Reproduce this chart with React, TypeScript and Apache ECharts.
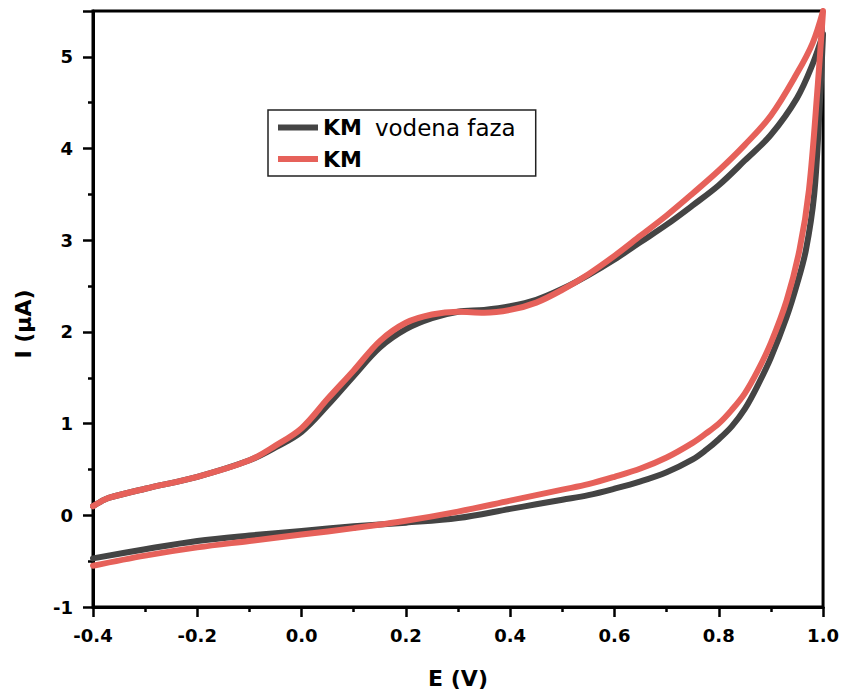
import React, { useEffect, useRef } from "react";
import * as echarts from "echarts";

// ---- data (E in V, I in µA) ----
const SERIES_NAMES = ["KM vodena faza", "KM"];

// KM vodena faza (dark) - forward scan
const E_FWD_DARK = [-0.4, -0.385, -0.37, -0.3, -0.2, -0.1, -0.05, 0.0, 0.05, 0.1, 0.15, 0.2, 0.25, 0.3, 0.35, 0.4, 0.45, 0.5, 0.55, 0.6, 0.65, 0.7, 0.75, 0.8, 0.85, 0.9, 0.95, 0.98, 1.0];
const I_FWD_DARK = [0.10, 0.15, 0.19, 0.29, 0.42, 0.60, 0.74, 0.91, 1.20, 1.52, 1.83, 2.03, 2.15, 2.22, 2.24, 2.28, 2.35, 2.47, 2.62, 2.79, 2.98, 3.17, 3.38, 3.60, 3.87, 4.15, 4.55, 4.92, 5.25];
// KM vodena faza (dark) - reverse scan
const E_REV_DARK = [1.0, 0.993, 0.983, 0.967, 0.95, 0.93, 0.9, 0.875, 0.85, 0.825, 0.8, 0.775, 0.75, 0.7, 0.65, 0.6, 0.55, 0.5, 0.45, 0.4, 0.3, 0.2, 0.1, 0.0, -0.1, -0.2, -0.3, -0.4];
const I_REV_DARK = [5.25, 4.4, 3.5, 2.89, 2.52, 2.16, 1.72, 1.42, 1.16, 0.97, 0.83, 0.71, 0.61, 0.47, 0.37, 0.29, 0.22, 0.17, 0.12, 0.07, -0.03, -0.08, -0.12, -0.17, -0.22, -0.28, -0.37, -0.47];

// KM (red) - forward scan
const E_FWD_RED = [-0.4, -0.385, -0.37, -0.3, -0.2, -0.1, -0.05, 0.0, 0.05, 0.1, 0.15, 0.2, 0.25, 0.3, 0.35, 0.4, 0.45, 0.5, 0.55, 0.6, 0.65, 0.7, 0.75, 0.8, 0.85, 0.9, 0.95, 0.98, 1.0];
const I_FWD_RED = [0.10, 0.15, 0.19, 0.29, 0.42, 0.60, 0.76, 0.95, 1.27, 1.58, 1.90, 2.10, 2.19, 2.22, 2.21, 2.24, 2.32, 2.46, 2.63, 2.83, 3.05, 3.27, 3.51, 3.76, 4.04, 4.36, 4.82, 5.15, 5.5];
// KM (red) - reverse scan
const E_REV_RED = [1.0, 0.99, 0.973, 0.955, 0.93, 0.9, 0.875, 0.85, 0.825, 0.8, 0.775, 0.75, 0.7, 0.65, 0.6, 0.55, 0.5, 0.45, 0.4, 0.3, 0.2, 0.1, 0.0, -0.1, -0.2, -0.3, -0.4];
const I_REV_RED = [5.5, 4.7, 3.55, 2.9, 2.34, 1.88, 1.58, 1.33, 1.15, 1.0, 0.89, 0.79, 0.63, 0.51, 0.42, 0.34, 0.28, 0.22, 0.16, 0.04, -0.06, -0.14, -0.21, -0.28, -0.35, -0.44, -0.55];

const X_TICKS = [-0.4, -0.2, 0.0, 0.2, 0.4, 0.6, 0.8, 1.0];
const Y_TICKS = [-1, 0, 1, 2, 3, 4, 5];

const FONT = "DejaVu Sans";

function pairs(es: number[], is: number[]) {
  return es.map((e, k) => [e, is[k]]);
}

export default function App() {
  const ref = useRef<HTMLDivElement>(null);

  useEffect(() => {
    if (!ref.current) return;
    const chart = echarts.init(ref.current, null, { renderer: "svg" });

    const darkData = [...pairs(E_FWD_DARK, I_FWD_DARK), ...pairs(E_REV_DARK, I_REV_DARK).slice(1)];
    const redData = [...pairs(E_FWD_RED, I_FWD_RED), ...pairs(E_REV_RED, I_REV_RED).slice(1)];

    const axisCommon = {
      axisLine: { show: true, onZero: false, lineStyle: { color: "#000", width: 3 } },
      axisTick: { show: true, inside: false, length: 10, lineStyle: { color: "#000", width: 2.5 } },
      minorTick: { show: true, splitNumber: 2, length: 5, lineStyle: { color: "#000", width: 2.5 } },
      splitLine: { show: false },
      nameTextStyle: { fontFamily: FONT, fontWeight: "bold", fontSize: 22, color: "#000" },
    };

    chart.setOption({
      animation: false,
      backgroundColor: "#fff",
      grid: {
        left: 93,
        right: 18,
        top: 11,
        bottom: 88,
        show: true,
        borderColor: "#000",
        borderWidth: 3,
      },
      legend: {
        data: SERIES_NAMES,
        orient: "vertical",
        left: 268,
        top: 110,
        padding: [6, 20, 6, 10],
        itemGap: 9,
        itemWidth: 40,
        itemHeight: 6,
        icon: "rect",
        borderColor: "#222",
        borderWidth: 1.5,
        backgroundColor: "#fff",
        formatter: (name: string) =>
          name === "KM" ? "{b|KM}" : "{b|KM}{n|" + name.replace("KM ", "") + "}",
        textStyle: {
          fontFamily: FONT,
          fontSize: 22,
          color: "#000",
          lineHeight: 22,
          rich: {
            b: { fontFamily: FONT, fontWeight: "bold", fontSize: 22, color: "#000", lineHeight: 22 },
            n: {
              fontFamily: FONT,
              fontWeight: "normal",
              fontSize: 23,
              color: "#000",
              lineHeight: 22,
              padding: [0, 0, 0, 13],
            },
          },
        },
      },
      xAxis: {
        type: "value",
        min: X_TICKS[0],
        max: X_TICKS[X_TICKS.length - 1],
        interval: 0.2,
        name: "E (V)",
        nameLocation: "middle",
        nameGap: 60,
        ...axisCommon,
        axisLabel: {
          margin: 19,
          fontFamily: FONT,
          fontWeight: "bold",
          fontSize: 18,
          color: "#000",
          formatter: (v: number) => {
            const hit = X_TICKS.find((t) => Math.abs(t - v) < 1e-6);
            return hit === undefined ? "" : hit.toFixed(1);
          },
        },
      },
      yAxis: {
        type: "value",
        min: -1,
        max: 5.5,
        interval: 1,
        ...axisCommon,
        axisLabel: {
          margin: 20,
          fontFamily: FONT,
          fontWeight: "bold",
          fontSize: 18,
          color: "#000",
          showMaxLabel: false,
          formatter: (v: number) => {
            const hit = Y_TICKS.find((t) => Math.abs(t - v) < 1e-6);
            return hit === undefined ? "" : String(hit);
          },
        },
      },
      graphic: [
        {
          type: "text",
          x: 23,
          y: 324,
          rotation: Math.PI / 2,
          style: {
            text: "I (μA)",
            fontFamily: FONT,
            fontWeight: "bold",
            fontSize: 22,
            fill: "#000",
            align: "center",
            verticalAlign: "middle",
          },
        },
      ],
      series: [
        {
          name: SERIES_NAMES[0],
          type: "line",
          data: darkData,
          showSymbol: false,
          smooth: 0.35,
          color: "#444444",
          lineStyle: { width: 6, color: "#444444", cap: "round", join: "round" },
          z: 2,
        },
        {
          name: SERIES_NAMES[1],
          type: "line",
          data: redData,
          showSymbol: false,
          smooth: 0.35,
          color: "#e6615a",
          lineStyle: { width: 6, color: "#e6615a", cap: "round", join: "round" },
          z: 3,
        },
      ],
    });

    return () => chart.dispose();
  }, []);

  return (
    <div
      ref={ref}
      style={{ position: "fixed", left: 0, top: 0, width: 842, height: 695, background: "#fff" }}
    />
  );
}
